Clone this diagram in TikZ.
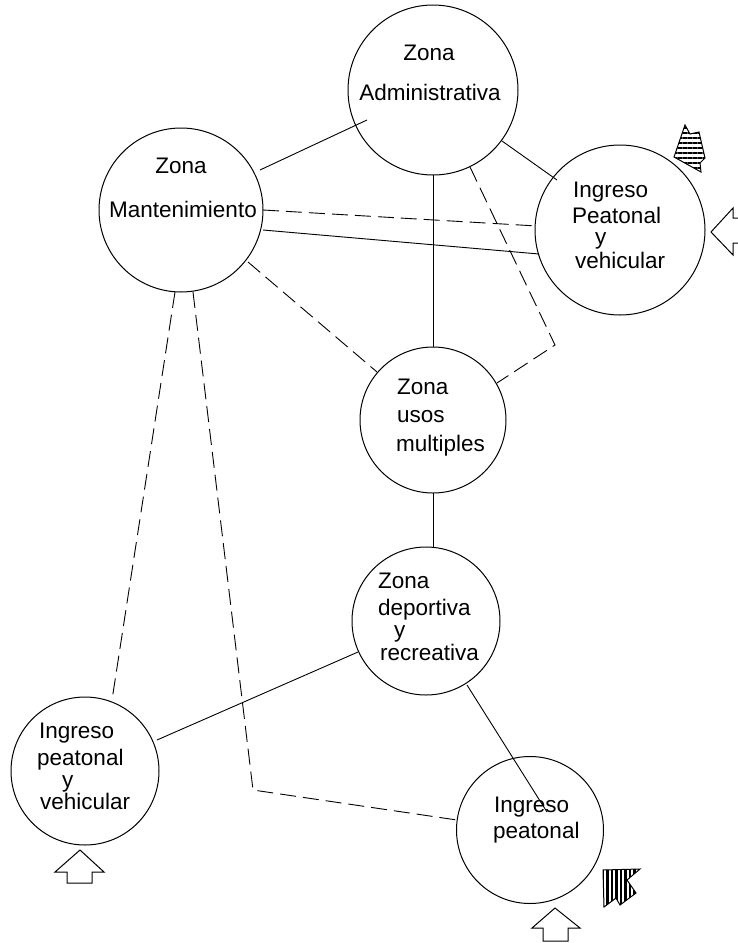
\documentclass[tikz,border=0pt]{standalone}
\usepackage{fontspec}
\setmainfont{Liberation Sans}
\usetikzlibrary{calc,patterns.meta}
\begin{document}
\begin{tikzpicture}[x=1pt,y=-1pt,
  zone/.style={circle,draw,line width=1pt,inner sep=0pt},
  lbl/.style={inner sep=0pt,anchor=base west,font=\fontsize{22.5}{27}\selectfont},
  lblc/.style={inner sep=0pt,anchor=base,font=\fontsize{22.5}{27}\selectfont},
  solidc/.style={line width=0.9pt},
  dashc/.style={line width=0.9pt,dash pattern=on 16pt off 7pt},
  hollow/.style={line width=1pt,fill=white},
  hatch/.style={line width=1pt}]
\useasboundingbox (0,0) rectangle (738,943);

% circles
\node[zone,minimum size=170pt] (adm) at (433,90) {};
\node[zone,minimum size=164pt] (mant) at (181,210) {};
\node[zone,minimum size=170pt] (tr) at (620,230) {};
\node[zone,minimum size=146pt] (usos) at (433,420) {};
\node[zone,minimum size=148pt] (dep) at (426,621) {};
\node[zone,minimum size=148pt] (bl) at (85,771) {};
\node[zone,minimum size=147pt] (br) at (530,830) {};

% texts
\node[lblc] (admA) at (429,60) {Zona};
\node[lblc] (admB) at (430,100) {Administrativa};
\node[lblc] (mantA) at (181,173) {Zona};
\node[lblc] (mantB) at (183,217) {Mantenimiento};
\node[lbl] (trA) at (573,197) {Ingreso};
\node[lbl] (trB) at (572,223) {Peatonal};
\node[lbl] (trC) at (595,244) {y};
\node[lbl] (trD) at (575,268) {vehicular};
\node[lbl] (usA) at (397,394) {Zona};
\node[lbl] (usB) at (397,422) {usos};
\node[lbl] (usC) at (396,451) {multiples};
\node[lbl] (depA) at (378,588) {Zona};
\node[lbl] (depB) at (378,615) {deportiva};
\node[lbl] (depC) at (394,637) {y};
\node[lbl] (depD) at (380,660) {recreativa};
\node[lbl] (blA) at (39,738) {Ingreso};
\node[lbl] (blB) at (37,765) {peatonal};
\node[lbl] (blC) at (62,787) {y};
\node[lbl] (blD) at (40,809) {vehicular};
\node[lbl] (brA) at (494,812) {Ingreso};
\node[lbl] (brB) at (493,838) {peatonal};

% bend points
\coordinate (k1) at (555,345);
\coordinate (k2) at (253,790);

% connectors
\draw[solidc] ($(mant)+(79,-40)$) -- ($(adm)+(-66,30)$);
\draw[solidc] ($(adm)+(69,51)$) -- ($(tr)+(-63,-50)$);
\draw[solidc] ($(adm)+(0,85)$) -- ($(usos)+(0,-73)$);
\draw[dashc] ($(mant)+(82,0)$) -- ($(tr)+(-83,-4)$);
\draw[solidc] ($(mant)+(82,20)$) -- ($(tr)+(-81,24)$);
\draw[dashc] ($(mant)+(67,52)$) -- ($(usos)+(-56,-48)$);
\draw[dashc] ($(adm)+(37,77)$) -- (k1) -- ($(usos)+(64,-37)$);
\draw[solidc] ($(usos)+(0,73)$) -- ($(dep)+(7,-74)$);
\draw[solidc] ($(dep)+(-68,31)$) -- ($(bl)+(72,-31)$);
\draw[solidc] ($(dep)+(41,64)$) -- ($(br)+(17,-18)$);
\draw[dashc] ($(mant)+(-6,82)$) -- ($(bl)+(27,-71)$);
\draw[dashc] ($(mant)+(12,82)$) -- (k2) -- ($(br)+(-73,-10)$);

% hollow arrows
\draw[hollow] (67,883) -- (67,872) -- (55,872) -- (80,850) -- (104,872) -- (92,872) -- (92,883) -- cycle;
\draw[hollow] (543,941) -- (543,928) -- (532,928) -- (555,908) -- (580,928) -- (568,928) -- (568,941) -- cycle;
\draw[hollow] (745,218) -- (733,218) -- (733,208) -- (711,232) -- (733,255) -- (733,243) -- (745,243);

% hatched arrows
\draw[hatch,pattern={Lines[angle=0,distance=5pt,line width=2.4pt]}]
  (685,125) -- (690,134) -- (699,132) -- (705,158) -- (700,163) -- (701,172) -- (674,157) -- cycle;
\draw[hatch,pattern={Lines[angle=90,distance=4.5pt,line width=2.2pt]}]
  (603,870) -- (640,869) -- (627,880) -- (636,893) -- (620,905) -- (616,898) -- (604,907) -- cycle;
\end{tikzpicture}
\end{document}
